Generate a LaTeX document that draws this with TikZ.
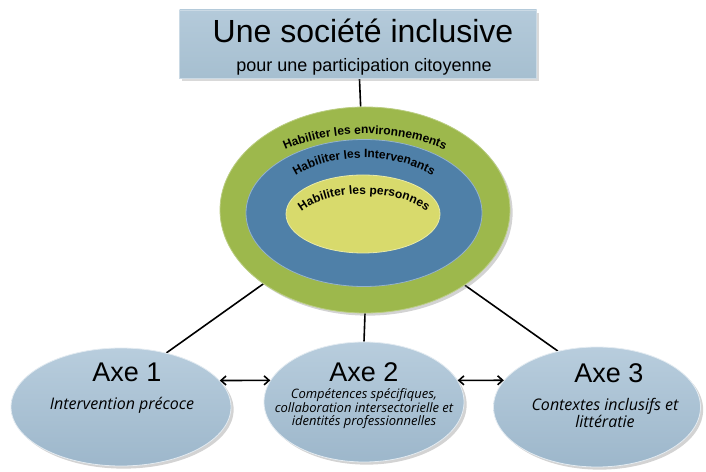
\documentclass[tikz,border=0pt]{standalone}
\usepackage{fontspec}
\setmainfont{Liberation Sans}
\newfontfamily\handfont{Open Sans}
\usetikzlibrary{shapes.geometric,arrows.meta,shadows,decorations.text,backgrounds}
\definecolor{boxtop}{HTML}{B4CADA}
\definecolor{boxbot}{HTML}{A6BFD0}
\definecolor{axetop}{HTML}{B8CDDD}
\definecolor{axebot}{HTML}{9DB7CB}
\definecolor{envgreen}{HTML}{9DB84C}
\definecolor{intblue}{HTML}{4F80A8}
\definecolor{persyellow}{HTML}{D8DA6C}
\newcommand{\ringfont}{\bfseries\fontsize{12}{13}\selectfont}
\begin{document}
\begin{tikzpicture}[x=1pt,y=1pt,
  axe/.style={ellipse,inner sep=0pt,draw=white!60!axetop,line width=0.8pt,top color=axetop,bottom color=axebot,drop shadow={opacity=0.35}},
  ring/.style={ellipse,inner sep=0pt,line width=0.8pt},
  link/.style={line width=1.6pt},
  both/.style={line width=1.6pt,{Straight Barb[length=5pt,width=9pt]}-{Straight Barb[length=5pt,width=9pt]}},
  axetitle/.style={font=\fontsize{27}{29}\selectfont},
  hand/.style={font=\handfont\itshape\fontsize{16}{15}\selectfont,align=center},
  ringtext/.style={decorate,decoration={text along path,text align=center,text={|\ringfont|#1}}}]
\useasboundingbox (0,0) rectangle (706,471);
\node[rectangle,minimum width=357pt,minimum height=68pt,top color=boxtop,bottom color=boxbot,draw=boxtop!70!white,drop shadow={opacity=0.3}] (top) at (358,427) {};
\node[font=\fontsize{32}{34}\selectfont] (title) at (363,440) {Une société inclusive};
\node[font=\fontsize{18}{20}\selectfont] (subtitle) at (364,404) {pour une participation citoyenne};
\node[ring,minimum width=290pt,minimum height=206pt,fill=envgreen,draw=envgreen!70!white,drop shadow={opacity=0.35}] (env) at (365,261) {};
\node[ring,minimum width=236pt,minimum height=147pt,fill=intblue,draw=intblue!60!white] (int) at (364,258) {};
\node[ring,minimum width=154pt,minimum height=78pt,fill=persyellow,draw=persyellow!60!white] (pers) at (363,257) {};
\path[ringtext={Habiliter les environnements}] (365,261) ++(150:130pt and 76pt) arc[start angle=150,end angle=30,x radius=130pt,y radius=76pt];
\path[ringtext={Habiliter les Intervenants}] (364,256) ++(155:95pt and 57pt) arc[start angle=155,end angle=25,x radius=95pt,y radius=57pt];
\path[ringtext={Habiliter les personnes}] (364,243) ++(160:72pt and 34pt) arc[start angle=160,end angle=20,x radius=72pt,y radius=34pt];
\node[axe,minimum width=220pt,minimum height=118pt] (axe1) at (121,64) {};
\node[axe,minimum width=200pt,minimum height=120pt] (axe2) at (364,69) {};
\node[axe,minimum width=207pt,minimum height=120pt] (axe3) at (597,64) {};
\node[axetitle] (axe1title) at (127,99) {Axe 1};
\node[axetitle] (axe2title) at (364,99) {Axe 2};
\node[axetitle] (axe3title) at (609,98) {Axe 3};
\node[hand] (axe1text) at (122,66) {Intervention précoce};
\node[hand,font=\handfont\itshape\fontsize{13}{13.5}\selectfont] (axe2text) at (364,62) {Compétences spécifiques,\\collaboration intersectorielle et\\identités professionnelles};
\node[hand] (axe3text) at (605,58) {Contextes inclusifs et\\littératie};
\begin{scope}[on background layer]
\draw[link] (top) -- (env);
\draw[link] (env.216) -- (axe1.50);
\draw[link] (env.south) -- (axe2.north);
\draw[link] (env.323) -- (axe3.125);
\end{scope}
\draw[both] (axe1.15) -- (axe2.167);
\draw[both] (axe2.13) -- (axe3.164);
\end{tikzpicture}
\end{document}
